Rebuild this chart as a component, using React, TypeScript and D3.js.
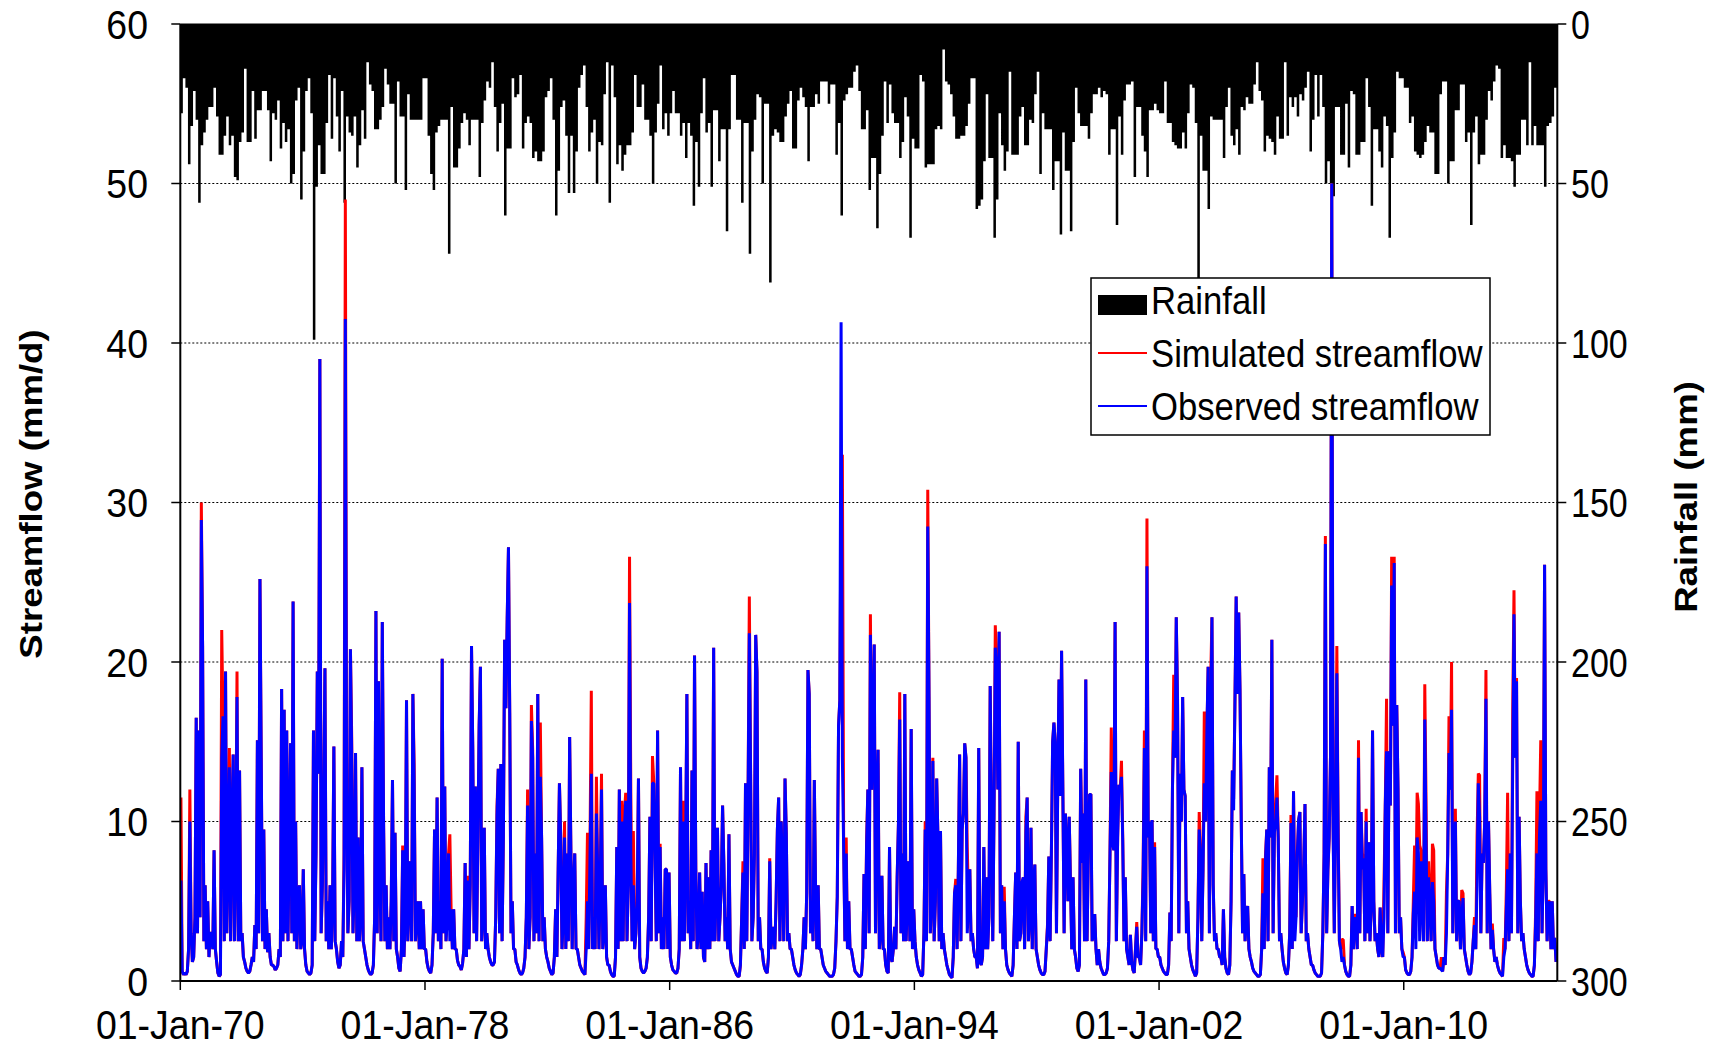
import React from "react";
import * as d3 from "d3";

// ---------- DATA ----------
const FIRST_YEAR = 1970;
const DOMAIN_END = 2015.02;

// Observed streamflow (mm/d), 24 half-month readings per year, 1970..2014
const FLOW_OBS: string[] = [
  "6.3 0.6 0.4 0.5 0.4 0.6 2 10 3 1.2 1.5 4 16.5 3 15.7 4 28.9 21 2.5 6 2 5 1.5 3",
  "3 2 8.2 2 1.2 0.5 0.3 0.4 14 16.6 2.5 19.4 3 8 13.4 2.5 10 14.2 2.5 8 17.8 2.5 13.2 2.5",
  "3 1.5 1.2 0.8 0.6 0.5 0.6 1 1.5 1.2 3.5 2 15.1 3 25.2 14 2.5 9.5 2 4.5 1.8 3 1.5 1",
  "1 0.9 0.7 0.8 1 2 1.5 18.3 2.5 17 3 15.7 2.5 9 14.9 3 23.8 2.5 10 2 5 6 2 2.5",
  "7 2 1 0.6 0.5 0.4 0.5 1 15.7 2.5 8 19.4 13 39 3 6 12 19.6 2.5 5 2 6 2 5",
  "14.7 2.5 2 1.2 0.8 1 2.5 1.5 7 41.5 12 3 5 20.8 14.3 3 6 14.3 2.5 9 2.5 4 13.4 2.5",
  "2 1.5 1 0.7 0.5 0.4 0.5 1 4 23.2 3 18.8 7 2.5 22.5 10 2.5 6 2 4 2 5 12.6 2.5",
  "9.3 2 1.5 0.8 0.6 2 8.2 1.5 4 17.6 2.5 5 7.5 2.5 18 12.4 2.5 4 5 2 5 2 4.5 2",
  "2 1.2 0.8 0.6 0.5 1 3 9.5 3 11.5 2.5 5 2 20.2 3 12.2 2.5 4 8 2.5 4.5 2 4.5 2",
  "2 1.3 1 0.9 0.7 1.1 2 7.4 1.5 6.3 2 6 21 14.5 3 12.2 2.5 9 16 19.7 2.5 4 9.6 2",
  "3 2 1.5 1.2 1 1 1.2 4 10.4 13.3 3 13.6 2.5 9 21.4 17.1 22.7 27.2 16.8 3 5 2 2 1.2",
  "1 0.7 0.5 0.4 0.5 0.8 1.5 4 11 2 4 16.3 14 2.5 8 3 18 2.5 12.8 9 2.5 4 2 1.5",
  "1.2 0.8 0.6 0.4 0.5 1.5 4.5 1.5 7 12.4 9 2 4 9 2 8 2.5 15.3 8 2 6 8 2 2",
  "1.5 1 0.8 0.6 0.5 0.4 2 5 2 8 13 2 4 2 10.5 7 2 6 12 2 3 6 1.5 1",
  "1 0.6 0.4 0.3 0.3 1.5 8.4 2 12 2.5 10 2.5 9.6 11.3 2.5 6 23.7 8 2.5 6 2 3 5 12.7",
  "1.5 0.8 0.6 0.5 0.6 0.8 1.5 4 10.3 2.5 12.4 12.4 8 2.5 15.7 3 8.4 2 4 2 7 7 2 6.8",
  "1.5 1 0.7 0.6 0.5 0.5 0.8 2 13.4 2.5 10 2.5 8 18 3 5 2 13.2 2.5 20.4 7 2 3 6.8",
  "2 5.6 1.5 1.2 7.4 2 6.5 2 8.2 2.5 20.9 2.5 6 9.6 2.5 4 6 11 7.4 2.5 4 2 9.2 2",
  "1.2 1 0.8 0.6 0.4 0.3 0.3 1 4 6.8 2 12.4 2.5 11.6 21.8 13 2.5 4 8 21.7 19.4 2.5 4 2",
  "2 1.2 0.8 0.6 0.5 1.5 7.5 2 3 3.4 2 5 9.5 11.5 2.5 10 6.5 2.5 12.7 9.3 2.5 3 2 2",
  "1.5 1 0.7 0.5 0.4 0.3 0.4 1 2 4 2 5.5 19.5 18 3 5 2.5 12.6 5.5 2 6 2 2 1.5",
  "1 0.8 0.6 0.5 0.4 0.3 0.3 0.3 0.4 0.8 2.5 5.3 16 17.6 41.3 14 8.4 2.5 8 2 5 2 2 1.5",
  "1 0.6 0.5 0.4 0.3 0.3 0.4 1.5 6.7 2 8.4 12 3 21.7 12 16.2 21.1 3 10.9 14.5 2 3 6.6 2",
  "2 1 0.6 0.5 8.4 1.5 1.2 2 3.4 2 6.5 9.9 16.4 3 8 2.5 18 2.5 5 7.5 2.5 15.8 2 4.5",
  "2.5 1.5 1 0.7 0.5 0.3 0.4 3 9.5 2.5 28.5 17.8 3 5 13.8 2.5 5 12.7 9 2.5 9.4 2 3 2",
  "1.5 1 0.7 0.4 0.3 0.2 1.5 5.5 6 2 7 14.2 2.5 9.5 10.5 14.9 14 3 5 7 2.5 3 2 1.5",
  "1.5 0.8 14.6 1.2 1 1.5 8.4 2 6.5 2 4 18.5 10 2.5 10.5 20.9 19.6 12 21.9 3 6 2 5 2",
  "1 0.7 0.5 0.4 0.3 1 4 6.8 2 15 2.5 3 6.2 6.5 2 9.3 11.5 2.5 4 9.6 2 6 7.3 2",
  "1.5 1 0.7 0.5 0.4 0.4 0.6 2 3.4 7.8 2.5 8 15 16.2 15 3 12.4 18.9 11.6 20.7 12 3 10.5 8.7",
  "5 10.3 6 2 6.5 2 1.5 0.8 0.6 1 13.3 7.4 10.5 2.5 18.9 2.5 8 11.7 11.7 2.5 3 4.2 2 1",
  "2 1.2 0.8 0.6 0.4 0.4 0.5 0.8 2.5 8 13.1 8.6 8.2 22.5 2.5 9 12.3 12 12.8 8.7 2.5 6.5 2 1.5",
  "1 2.9 1.2 0.7 0.5 2 3.4 1.5 1.5 1 3 6.5 14.6 2.5 26 9 10 3 10.1 2.5 8.4 2 2 1.5",
  "1.5 1 0.8 0.6 0.5 0.4 0.4 1 4.3 2.5 12 15.7 14 22.8 17.3 3 13 10 17.8 12 11.6 3 5 2",
  "1.5 1 0.7 0.5 0.3 0.5 4 9.5 8 2.5 7 12.4 10 15.5 19.7 3 15 22.8 6 2.5 3 2 2 1.5",
  "1.5 1 4.5 1.5 0.8 0.5 0.4 1 5 13.2 10.7 17.2 24.1 18 23.1 18.3 10 3 6.7 2.5 4 4.7 2 1.5",
  "1.2 0.8 0.6 0.5 0.4 0.3 0.3 0.4 2 5.5 2 7.5 9.5 2.5 13.4 9 21.4 3 9.3 10 11.5 9 2.5 3",
  "2 1.2 0.8 0.5 0.4 1 3 9.9 2 11.9 2.5 4 8 10.1 10.6 3 5 7.3 11.1 2.5 3 2 1.5 1",
  "1 0.7 0.5 0.4 0.3 0.3 0.3 0.5 3 8 27.4 3 7 9 14 50 9.9 3 10 19.3 9 2.5 2 1.2",
  "1.5 1 0.6 0.4 0.3 0.3 1 4.7 2 4 3.8 2 14 3 10.6 7 7.7 2.5 10 3 8.7 2.5 4.6 15.7",
  "5 2.5 3 2 1.5 4.6 2 1.5 4 11 14.4 3 14.4 11 24.8 16 26.2 3 17.3 12 3 4 2 1.5",
  "1.5 0.7 0.5 0.4 0.4 0.6 1.5 4.2 5.6 2 9 8 2.5 7.5 5 2.5 16.4 8.7 2.5 6.5 5 2.5 6.2 5",
  "2 1.5 1 0.8 0.8 0.7 0.6 1.5 1 3 8 14.3 12 17 3 8 10 2.5 5 5 2 4 5.2 2",
  "1.5 1 0.6 0.4 0.5 1.2 2.5 3.5 2 6 12.4 10.3 3 8 7.4 10 17.7 3 10 5.5 2 3.2 2 1.2",
  "1.5 1 0.7 0.5 0.4 0.3 1.5 2 4.5 7 2.5 8 3 13.6 23 14 18.8 3 10.3 5 2.5 3 2 1.5",
  "1 0.7 0.5 0.4 0.3 0.3 1 3.8 8 2.5 9.1 11.3 3 7.3 26.1 7 2.5 4.5 5 2 5 2 2.7 1.2",
];

// Simulated streamflow readings where the red line shows apart from the blue one:
// [year, half-month index, value]; elsewhere it lies under the observed line
const FLOW_SIM_READ: [number, number, number][] = [
  [1970, 0, 11.5], [1970, 7, 12], [1970, 16, 30],
  [1971, 8, 22], [1971, 14, 14.6], [1971, 20, 19.4],
  [1975, 8, 8], [1975, 9, 49], [1975, 10, 14], [1975, 14, 15.3],
  [1977, 6, 8.5], [1977, 15, 13.6],
  [1978, 19, 9.2], [1979, 9, 6.6], [1980, 8, 10.9],
  [1981, 8, 12], [1981, 11, 17.3], [1981, 12, 14.5], [1981, 18, 16.2],
  [1982, 13, 10],
  [1983, 6, 4], [1983, 7, 9.3], [1983, 9, 8.8], [1983, 10, 18.2], [1983, 14, 12.8], [1983, 18, 13],
  [1984, 10, 11.3], [1984, 12, 10.5], [1984, 13, 11.8], [1984, 16, 26.6], [1984, 17, 11.8], [1984, 19, 9.4],
  [1985, 10, 14.1], [1985, 11, 12.5], [1985, 16, 8.6],
  [1986, 10, 11.3],
  [1988, 9, 7.5], [1988, 14, 24.1],
  [1989, 6, 7.7], [1989, 16, 7.4],
  [1991, 14, 30.5], [1991, 15, 33], [1991, 16, 9], [1991, 18, 9],
  [1992, 10, 8.8], [1992, 13, 23],
  [1993, 12, 18.1],
  [1994, 8, 10], [1994, 10, 30.8], [1994, 14, 14],
  [1995, 8, 6.4], [1995, 17, 8.4],
  [1996, 15, 22.3], [1996, 22, 5.9],
  [1997, 15, 10.3], [1998, 8, 3.6],
  [1999, 2, 6.3], [1999, 11, 9.4],
  [2000, 10, 15.9], [2000, 11, 9.2], [2000, 18, 13.8], [2000, 19, 9],
  [2001, 6, 3.7], [2001, 11, 7.3], [2001, 12, 15.7], [2001, 14, 29], [2001, 20, 8.7],
  [2002, 11, 19.2], [2002, 14, 17.7],
  [2003, 7, 10.6], [2003, 11, 16.9], [2003, 16, 18.8],
  [2004, 10, 11.4],
  [2005, 9, 7.7], [2005, 11, 7.9], [2005, 19, 11.3], [2005, 20, 12.9],
  [2006, 7, 10.4], [2006, 10, 5.5],
  [2007, 10, 27.9], [2007, 16, 10.4], [2007, 19, 21], [2007, 20, 10], [2007, 23, 2.6],
  [2008, 0, 2.6], [2008, 9, 4.2], [2008, 10, 4], [2008, 12, 15.1], [2008, 15, 8], [2008, 18, 10.8],
  [2009, 8, 6.1], [2009, 10, 17.7], [2009, 14, 26.6], [2009, 16, 26.6], [2009, 23, 1.8],
  [2010, 7, 5], [2010, 8, 8.5], [2010, 9, 5], [2010, 10, 11.8], [2010, 11, 11.1], [2010, 12, 8.5],
  [2010, 13, 8.2], [2010, 16, 18.6], [2010, 17, 11.2], [2010, 19, 7.5], [2010, 22, 8.6], [2010, 23, 8.2],
  [2011, 5, 1.5], [2011, 9, 5.6], [2011, 11, 16.6], [2011, 13, 20], [2011, 16, 10.8], [2011, 21, 5.7], [2011, 22, 5.5],
  [2012, 7, 4], [2012, 9, 9], [2012, 10, 13], [2012, 11, 12.9], [2012, 16, 19.5], [2012, 21, 3.6],
  [2013, 6, 2.7], [2013, 8, 5.8], [2013, 9, 11.8], [2013, 13, 17], [2013, 14, 24.5], [2013, 16, 19],
  [2014, 7, 4.5], [2014, 8, 11.9], [2014, 10, 10.1], [2014, 11, 15.1], [2014, 13, 8.4], [2014, 17, 5],
];

// Rainfall (mm), largest daily value in each month, 1970..2014
const RAIN: string[] = [
  "28 17 20 44 32 21 30 56 38 34 30 26",
  "26 20 29 41 41 35 29 38 35 48 49 37",
  "34 14 37 37 21 36 27 27 21 21 27 43",
  "28 30 24 39 31 37 33 50 47 24 20 55",
  "40 21 17 28 99 51 38 47 47 31 16 36",
  "17 29 40 21 56 29 34 35 29 45 38 27",
  "36 12 19 21 33 33 30 26 14 19 25 25",
  "50 18 29 29 52 22 30 30 30 30 30 17",
  "17 35 47 52 34 32 30 30 30 72 26 45",
  "45 39 31 28 30 38 30 30 30 48 31 24",
  "18 20 12 26 40 31 25 60 39 39 17 23",
  "22 16 39 31 29 31 42 40 43 43 40 23",
  "21 17 30 60 46 26 24 35 53 35 53 40",
  "20 16 13 26 40 34 30 50 37 38 22 12",
  "56 13 23 44 38 46 41 38 38 34 16 26",
  "26 19 30 30 35 50 34 25 13 33 28 35",
  "28 21 28 28 35 31 42 31 35 57 37 51",
  "28 17 34 31 51 27 27 43 33 33 65 33",
  "16 16 30 30 56 31 31 72 40 30 22 23",
  "50 25 25 81 35 33 34 37 37 29 25 21",
  "39 39 24 20 23 26 43 26 26 22 25 18",
  "18 18 25 19 19 41 31 60 24 22 20 20",
  "15 13 21 33 33 27 52 42 42 64 47 35",
  "18 31 19 28 31 31 42 37 23 29 67 36",
  "39 39 16 18 45 44 44 44 33 32 33 8",
  "18 19 22 29 36 36 35 35 32 25 17 17",
  "58 57 55 43 22 42 42 67 55 28 38 46",
  "40 15 41 41 41 29 26 38 38 30 31 22",
  "15 47 28 33 33 33 52 43 43 66 34 46",
  "46 65 37 20 28 32 32 32 36 28 22 22",
  "20 23 21 22 41 33 33 63 29 41 24 19",
  "19 18 48 26 26 35 40 48 27 27 25 27",
  "28 28 18 31 31 37 38 39 39 34 39 28",
  "19 20 31 80 35 46 46 58 29 30 30 30",
  "30 42 26 20 35 38 33 41 26 27 23 25",
  "25 19 12 21 24 40 35 36 37 41 29 36",
  "36 12 35 23 26 23 29 22 24 20 15 40",
  "30 16 29 16 26 50 43 50 54 26 26 41",
  "41 25 45 21 22 41 41 37 37 17 26 57",
  "33 33 40 45 29 32 67 42 34 15 17 17",
  "20 20 31 29 40 41 42 41 37 32 34 34",
  "47 47 22 18 18 50 43 43 27 27 19 19",
  "37 34 63 34 29 44 41 41 30 21 24 18",
  "13 14 42 38 42 42 43 51 41 41 30 30",
  "38 12 38 32 38 38 38 51 32 31 29 20",
];

const FLOW_TICKS = [0, 10, 20, 30, 40, 50, 60];
const RAIN_TICKS = [0, 50, 100, 150, 200, 250, 300];
const DATE_TICKS = [1970, 1978, 1986, 1994, 2002, 2010];
const DATE_LABELS = ["01-Jan-70", "01-Jan-78", "01-Jan-86", "01-Jan-94", "01-Jan-02", "01-Jan-10"];
const LEGEND = ["Rainfall", "Simulated streamflow", "Observed streamflow"];

// ---------- LAYOUT ----------
const W = 1713;
const H = 1047;
const PL = 180.3, PR = 1557.3, PT = 24, PB = 981;
const FONT = "'Liberation Sans', Arial, Helvetica, sans-serif";

type Pt = { t: number; v: number };

export default function App() {
  const x = d3.scaleLinear().domain([FIRST_YEAR, DOMAIN_END]).range([PL, PR]);
  const yFlow = d3.scaleLinear().domain([0, 60]).range([PB, PT]);
  const yRain = d3.scaleLinear().domain([0, 300]).range([PT, PB]);

  const obs: Pt[] = FLOW_OBS.flatMap((s, i) =>
    s.trim().split(/\s+/).map((v, k) => ({ t: FIRST_YEAR + i + (k + 0.5) / 24, v: +v }))
  );
  const sim: Pt[] = obs.map((p) => ({ ...p }));
  FLOW_SIM_READ.forEach(([yr, k, v]) => {
    const idx = (yr - FIRST_YEAR) * 24 + k;
    if (sim[idx]) sim[idx].v = v;
  });

  const rain: Pt[] = RAIN.flatMap((s, i) =>
    s.trim().split(/\s+/).map((v, m) => ({ t: FIRST_YEAR + i + m / 12, v: +v }))
  );
  rain.push({ t: DOMAIN_END, v: rain[rain.length - 1].v });

  const line = d3
    .line<Pt>()
    .x((d) => x(d.t))
    .y((d) => yFlow(d.v));
  const rainArea = d3
    .area<Pt>()
    .x((d) => x(d.t))
    .y0(PT)
    .y1((d) => yRain(d.v))
    .curve(d3.curveStepAfter);

  // lettering: font sizes and vertical stretch
  const lfs = 37.5, lsy = 1.085; // left & bottom ticks
  const rfs = 34, rsy = 1.2; // right ticks
  const gfs = 34.7, gsy = 1.14; // legend
  const half = (fs: number, sy: number) => (0.716 * fs * sy) / 2;

  return (
    <svg
      width={W}
      height={H}
      viewBox={`0 0 ${W} ${H}`}
      style={{ position: "absolute", left: 0, top: 0, background: "#fff", display: "block" }}
      fontFamily={FONT}
    >
      <defs>
        <clipPath id="plot">
          <rect x={PL} y={PT} width={PR - PL} height={PB - PT} />
        </clipPath>
      </defs>
      <rect x={0} y={0} width={W} height={H} fill="#fff" />

      {/* gridlines */}
      {FLOW_TICKS.filter((t) => t > 0 && t < 60).map((t) => (
        <line
          key={"g" + t}
          x1={PL}
          x2={PR}
          y1={yFlow(t)}
          y2={yFlow(t)}
          stroke="#000"
          strokeWidth={1}
          strokeDasharray="2,2"
        />
      ))}

      <g clipPath="url(#plot)">
        <path d={rainArea(rain) || ""} fill="#000" />
        <path d={line(sim) || ""} fill="none" stroke="#ff0000" strokeWidth={3} strokeLinejoin="bevel" />
        <path d={line(obs) || ""} fill="none" stroke="#0000ff" strokeWidth={3} strokeLinejoin="bevel" />
      </g>

      {/* frame */}
      <line x1={PL} x2={PL} y1={PT} y2={PB} stroke="#000" strokeWidth={2} />
      <line x1={PR} x2={PR} y1={PT} y2={PB} stroke="#000" strokeWidth={2} />
      <line x1={PL} x2={PR} y1={PB} y2={PB} stroke="#000" strokeWidth={2} />
      <line x1={PL} x2={PR} y1={PT} y2={PT} stroke="#000" strokeWidth={1} />

      {/* left axis */}
      {FLOW_TICKS.map((t) => (
        <g key={"l" + t}>
          <line x1={PL - 9} x2={PL} y1={yFlow(t)} y2={yFlow(t)} stroke="#000" strokeWidth={1.5} />
          <text
            transform={`translate(148,${yFlow(t) + half(lfs, lsy)}) scale(1,${lsy})`}
            textAnchor="end"
            fontSize={lfs}
            fill="#000"
          >
            {t}
          </text>
        </g>
      ))}

      {/* right axis */}
      {RAIN_TICKS.map((t) => (
        <g key={"r" + t}>
          <line x1={PR} x2={PR + 9} y1={yRain(t)} y2={yRain(t)} stroke="#000" strokeWidth={1.5} />
          <text
            transform={`translate(1571,${yRain(t) + half(rfs, rsy)}) scale(1,${rsy})`}
            textAnchor="start"
            fontSize={rfs}
            fill="#000"
          >
            {t}
          </text>
        </g>
      ))}

      {/* bottom axis */}
      {DATE_TICKS.map((t, i) => (
        <g key={"b" + t}>
          <line x1={x(t)} x2={x(t)} y1={PB} y2={PB + 9} stroke="#000" strokeWidth={1.5} />
          <text
            transform={`translate(${x(t)},1039) scale(1,${lsy})`}
            textAnchor="middle"
            fontSize={lfs}
            fill="#000"
          >
            {DATE_LABELS[i]}
          </text>
        </g>
      ))}

      {/* axis titles */}
      <text
        transform={`translate(${30.6 + (0.716 * 30.5) / 2},494) rotate(-90) scale(1.2,1)`}
        textAnchor="middle"
        fontSize={30.5}
        fontWeight="bold"
        fill="#000"
      >
        Streamflow (mm/d)
      </text>
      <text
        transform={`translate(${1686 + (0.716 * 30.5) / 2},497) rotate(-90) scale(1.2,1)`}
        textAnchor="middle"
        fontSize={30.5}
        fontWeight="bold"
        fill="#000"
      >
        Rainfall (mm)
      </text>

      {/* legend */}
      <g>
        <rect x={1091} y={278} width={399} height={157} fill="#fff" stroke="#000" strokeWidth={1.5} />
        <rect x={1098} y={295} width={49} height={20} fill="#000" />
        <line x1={1098} x2={1147} y1={353} y2={353} stroke="#ff0000" strokeWidth={2} />
        <line x1={1098} x2={1147} y1={406} y2={406} stroke="#0000ff" strokeWidth={2} />
        {LEGEND.map((s, i) => (
          <text
            key={s}
            transform={`translate(1151,${[300, 353, 406][i] + half(gfs, gsy)}) scale(1,${gsy})`}
            fontSize={gfs}
            fill="#000"
          >
            {s}
          </text>
        ))}
      </g>
    </svg>
  );
}
